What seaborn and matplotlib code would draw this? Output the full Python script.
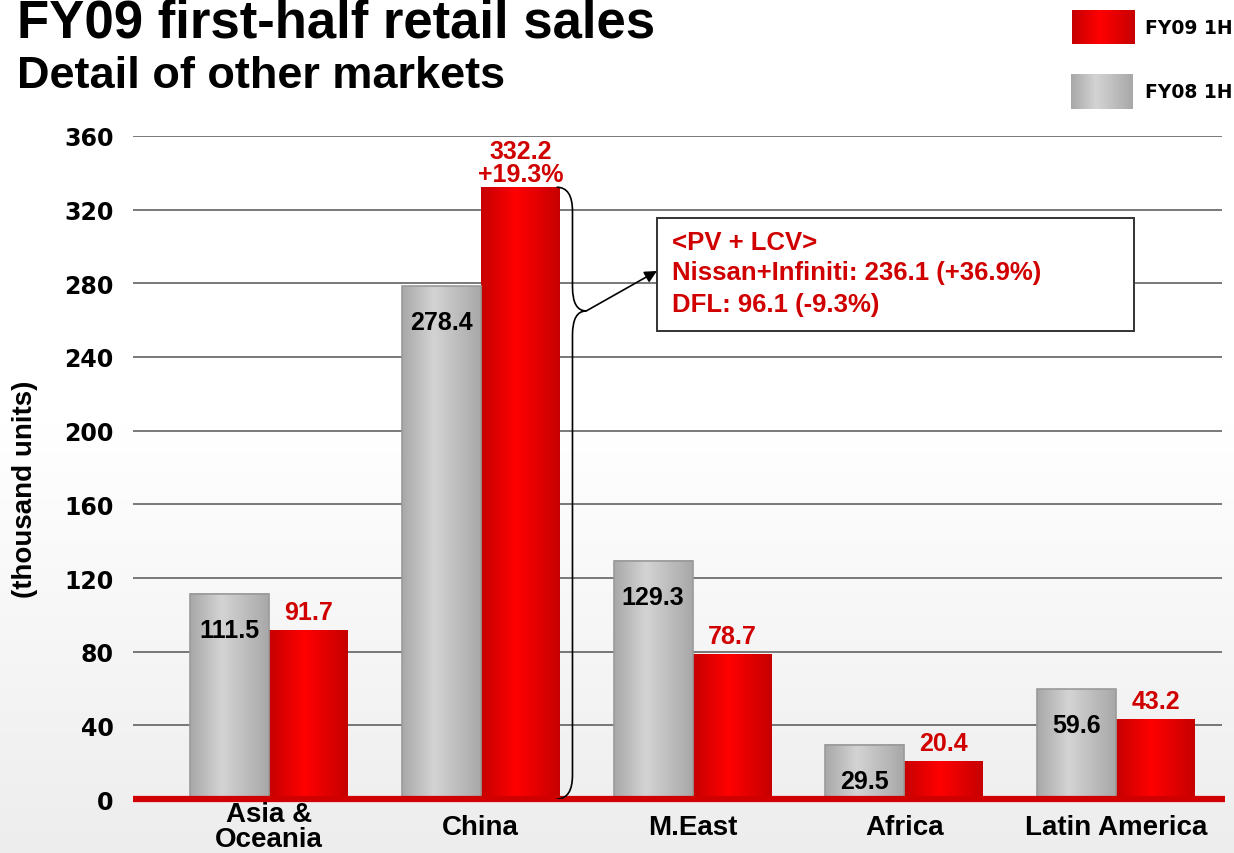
import numpy as np
import pandas as pd
import matplotlib
matplotlib.use("Agg")
import matplotlib.pyplot as plt
from matplotlib.path import Path
from matplotlib.patches import PathPatch, Rectangle
import seaborn as sns

# ---- data (thousand units) ----
regions = ["Asia &\nOceania", "China", "M.East", "Africa", "Latin America"]
fy08_1h = [111.5, 278.4, 129.3, 29.5, 59.6]
fy09_1h = [91.7, 332.2, 78.7, 20.4, 43.2]
series_names = ["FY08 1H", "FY09 1H"]
china_growth = "+19.3%"
china_breakdown = ["<PV + LCV>", "Nissan+Infiniti: 236.1 (+36.9%)", "DFL: 96.1 (-9.3%)"]
y_ticks = [0, 40, 80, 120, 160, 200, 240, 280, 320, 360]

RED = "#D00000"
df = pd.DataFrame({
    "region": regions * 2,
    "series": [series_names[0]] * len(regions) + [series_names[1]] * len(regions),
    "units": fy08_1h + fy09_1h,
})

sns.set_style("white")
plt.rcParams["font.family"] = ["Liberation Sans", "DejaVu Sans"]
plt.rcParams["font.weight"] = "bold"
plt.rcParams["text.color"] = "black"
plt.rcParams["xtick.color"] = "black"
plt.rcParams["ytick.color"] = "black"
plt.rcParams["axes.labelcolor"] = "black"

fig = plt.figure(figsize=(12.34, 8.54), dpi=100)

# soft background shading toward the bottom
bg = fig.add_axes([0, 0, 1, 1], zorder=-10)
shade = np.ones((200, 1, 3))
t = np.linspace(0, 1, 200)
fade = np.clip((t - 0.5) / 0.5, 0, 1) * 0.07
shade[:, 0, :] = (1 - fade)[:, None]
bg.imshow(shade, aspect="auto", extent=[0, 1, 0, 1], origin="upper")
bg.set_axis_off()

ax = fig.add_axes([0.1078, 0.0632, 0.8825, 0.7764])
ax.patch.set_alpha(0)

sns.barplot(data=df, x="region", y="units", hue="series", hue_order=series_names,
            palette=["#C4C4C4", "#EE0000"], width=0.746, saturation=1,
            legend=False, ax=ax, zorder=3)


def gradient(kind, n=64):
    pos = np.linspace(0, 1, n)
    if kind == "gray":
        stops, vals = [0, 0.4, 1], [[0.66, 0.66, 0.66], [0.83, 0.83, 0.83], [0.66, 0.66, 0.66]]
    else:
        stops, vals = [0, 0.45, 1], [[0.78, 0, 0], [1.0, 0, 0], [0.78, 0, 0]]
    vals = np.array(vals)
    g = np.stack([np.interp(pos, stops, vals[:, c]) for c in range(3)], axis=-1)
    return g[None, :, :]


gray_bars, red_bars = ax.containers[0], ax.containers[1]
for cont, kind in ((gray_bars, "gray"), (red_bars, "red")):
    for bar in cont:
        x, w, h = bar.get_x(), bar.get_width(), bar.get_height()
        ax.imshow(gradient(kind), extent=[x, x + w, 0, h], aspect="auto", zorder=3.5)
        if kind == "gray":
            bar.set_edgecolor("#9A9A9A")
            bar.set_linewidth(1.2)
            bar.set_zorder(3.6)
            bar.set_facecolor("none")
        else:
            bar.set_linewidth(0)

ax.set_xlim(-0.642, 4.50)
ax.set_ylim(0, 360)
ax.set_yticks(y_ticks)
ax.grid(axis="y", color="#555555", linewidth=1.1, zorder=0)
ax.grid(axis="x", visible=False)
for s in ax.spines.values():
    s.set_visible(False)
ax.tick_params(axis="y", length=0, pad=14)
ax.tick_params(axis="x", length=0, pad=20)
for lab in ax.get_yticklabels():
    lab.set_fontfamily("DejaVu Sans")
    lab.set_fontweight("bold")
    lab.set_fontsize(17)
    lab.set_color("black")
for lab in ax.get_xticklabels():
    lab.set_fontsize(20)
    lab.set_fontweight("bold")
    lab.set_va("center")
    lab.set_linespacing(0.95)
    lab.set_color("black")
ax.set_xlabel("")
ax.set_ylabel("")

# red baseline
ax.plot([0, 1.003], [0, 0], transform=ax.get_yaxis_transform(), color="#D00000",
        linewidth=4.5, solid_capstyle="butt", zorder=6, clip_on=False)

# value labels
for bar in gray_bars:
    ax.annotate(f"{bar.get_height():.1f}", (bar.get_x() + bar.get_width() / 2, bar.get_height()),
                xytext=(0, -26), textcoords="offset points", ha="center", va="center",
                fontsize=18, fontweight="bold", color="black", zorder=7)
for i, bar in enumerate(red_bars):
    label = f"{bar.get_height():.1f}"
    if regions[i] == "China":
        ax.annotate(label + "\n" + china_growth, (bar.get_x() + bar.get_width() / 2, bar.get_height()),
                    xytext=(0, 1), textcoords="offset points", ha="center", va="bottom",
                    fontsize=18, fontweight="bold", color=RED, linespacing=0.92, zorder=7)
    else:
        ax.annotate(label, (bar.get_x() + bar.get_width() / 2, bar.get_height()),
                    xytext=(0, 13), textcoords="offset points", ha="center", va="center",
                    fontsize=18, fontweight="bold", color=RED, zorder=7)

# brace beside the China bar
china_bar = red_bars[regions.index("China")]
x0 = china_bar.get_x() + china_bar.get_width() - 0.015
x1 = x0 + 0.075
x2 = x0 + 0.14
ytop, ybot = china_bar.get_height(), 0.0
yapex = 265.0
r = 13.0
verts = [
    (x0, ytop), (x1, ytop), (x1, ytop - r),
    (x1, yapex + r),
    (x1, yapex), (x2, yapex),
    (x1, yapex), (x1, yapex - r),
    (x1, ybot + r),
    (x1, ybot), (x0, ybot),
]
codes = [Path.MOVETO, Path.CURVE3, Path.CURVE3, Path.LINETO, Path.CURVE3, Path.CURVE3,
         Path.CURVE3, Path.CURVE3, Path.LINETO, Path.CURVE3, Path.CURVE3]
ax.add_patch(PathPatch(Path(verts, codes), facecolor="none", edgecolor="black",
                       linewidth=1.2, zorder=8))

# callout box
box_x0, box_x1 = 1.832, 4.085
box_y0, box_y1 = 254.1, 315.5
ax.add_patch(Rectangle((box_x0, box_y0), box_x1 - box_x0, box_y1 - box_y0,
                       facecolor="white", edgecolor="#333333", linewidth=1.4, zorder=8))
ax.annotate("", xy=(box_x0, 286.7), xytext=(x2, yapex),
            arrowprops=dict(arrowstyle="-|>", color="black", lw=1.2, mutation_scale=18,
                            shrinkA=0, shrinkB=0), zorder=9)
for line, yv in zip(china_breakdown, [302.4, 286.1, 268.8]):
    ax.text(1.903, yv, line, ha="left", va="center", fontsize=18.5, fontweight="bold",
            color=RED, zorder=9)

# titles
fig.text(17 / 1234, 1 - 38 / 854, "FY09 first-half retail sales", ha="left", va="baseline",
         fontsize=38, fontweight="bold", color="black")
fig.text(17 / 1234, 1 - 88 / 854, "Detail of other markets", ha="left", va="baseline",
         fontsize=32.5, fontweight="bold", color="black")
fig.text(25 / 1234, 1 - 489 / 854, "(thousand units)", rotation=90, ha="center", va="center",
         fontsize=20, fontweight="bold", color="black")

# legend swatches
for (left, top, right, bottom), kind, name in (
        ((1072, 11, 1135, 45), "red", series_names[1]),
        ((1071, 75, 1133, 110), "gray", series_names[0])):
    sw = fig.add_axes([left / 1234, 1 - bottom / 854, (right - left) / 1234, (bottom - top) / 854])
    sw.imshow(gradient(kind), aspect="auto")
    sw.set_axis_off()
    fig.text(1145 / 1234, 1 - ((top + bottom) / 2) / 854, name, ha="left", va="center",
             fontsize=13.5, fontweight="bold", family=["DejaVu Sans"], color="black")

fig.savefig("out.png", dpi=100)
